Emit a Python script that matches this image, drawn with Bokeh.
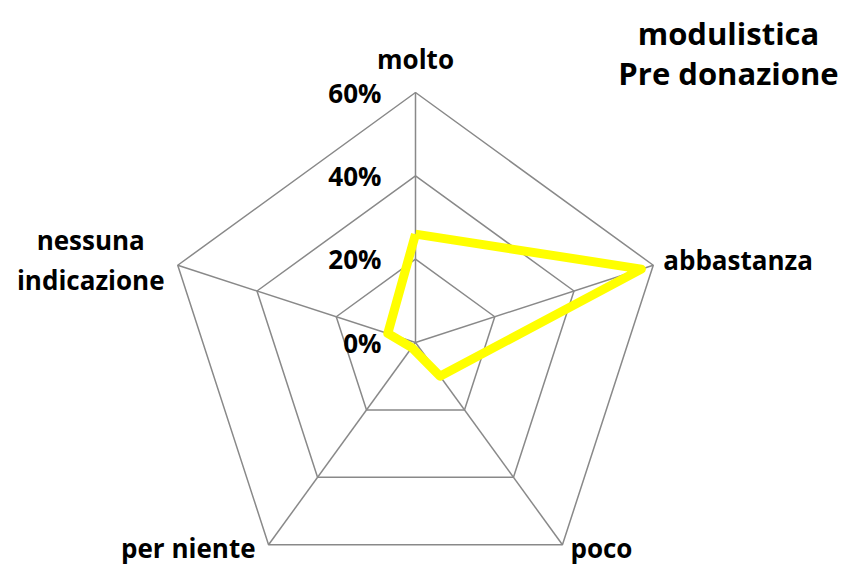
import math
from bokeh.plotting import figure
from bokeh.core.properties import value
from bokeh.embed import file_html
from bokeh.resources import INLINE

# ---- data ----
categories = ["molto", "abbastanza", "poco", "per niente", "nessuna\nindicazione"]
values = [26, 57, 10, 1.5, 7]           # percent
grid_levels = [0, 20, 40, 60]
grid_labels = ["0%", "20%", "40%", "60%"]
title_lines = ["modulistica", "Pre donazione"]

# ---- layout (pixels) ----
W, H = 845, 566
CX, CY = 415, 342           # center in canvas px
RMAX = 250                  # px for 60%
S = RMAX / 60.0             # px per percent
FONT = value("Open Sans")
FS = "26px"
TFS = "31px"

p = figure(width=W, height=H, output_backend="svg", toolbar_location=None,
           x_range=(-CX / S, (W - CX) / S), y_range=(-(H - CY) / S, CY / S),
           min_border=0)
p.axis.visible = False
p.grid.visible = False
p.outline_line_color = None
p.background_fill_color = "white"
p.border_fill_color = "white"

n = len(categories)
angles = [math.pi / 2 - 2 * math.pi * i / n for i in range(n)]

def pt(r, a):
    return r * math.cos(a), r * math.sin(a)

# grid polygons
for lv in grid_levels[1:]:
    xs = [pt(lv, a)[0] for a in angles] + [pt(lv, angles[0])[0]]
    ys = [pt(lv, a)[1] for a in angles] + [pt(lv, angles[0])[1]]
    p.line(xs, ys, line_color="#898989", line_width=1.5)
# spokes
for a in angles:
    x1, y1 = pt(grid_levels[-1], a)
    p.line([0, x1], [0, y1], line_color="#898989", line_width=1.5)

# data polygon
dx = [pt(v, a)[0] for v, a in zip(values, angles)]
dy = [pt(v, a)[1] for v, a in zip(values, angles)]
p.line(dx + [dx[0]], dy + [dy[0]], line_color="#FFFF00", line_width=9,
       line_join="round")

# radial tick labels
p.text(x=[-34 / S] * len(grid_levels), y=grid_levels, text=grid_labels,
       text_font=FONT, text_font_style="bold", text_font_size=FS,
       text_align="right", text_baseline="middle", text_color="black")

# category labels (offsets in px relative to outer vertex)
offsets = [
    (0, 34, "center"),      # molto
    (10, 5, "left"),        # abbastanza
    (8, -3, "left"),        # poco
    (-13, -3, "right"),     # per niente
    (-87, 10, "center"),    # nessuna indicazione
]
for cat, a, (ox, oy, al) in zip(categories, angles, offsets):
    vx, vy = pt(grid_levels[-1], a)
    lines = cat.split("\n")
    for k, ln in enumerate(lines):
        yy = vy + (oy + (15 if len(lines) > 1 else 0) - 40 * k) / S
        p.text(x=[vx + ox / S], y=[yy], text=[ln], text_font=FONT,
               text_font_style="bold", text_font_size=FS, text_align=al,
               text_baseline="alphabetic", text_color="black")

# title (top right)
for k, ln in enumerate(title_lines):
    p.text(x=[(728 - CX) / S], y=[(CY - 32 - 40 * k) / S], text=[ln],
           text_font=FONT, text_font_style="bold", text_font_size=TFS,
           text_align="center", text_baseline="alphabetic", text_color="black")

open("out.html", "w").write(file_html(p, INLINE))
